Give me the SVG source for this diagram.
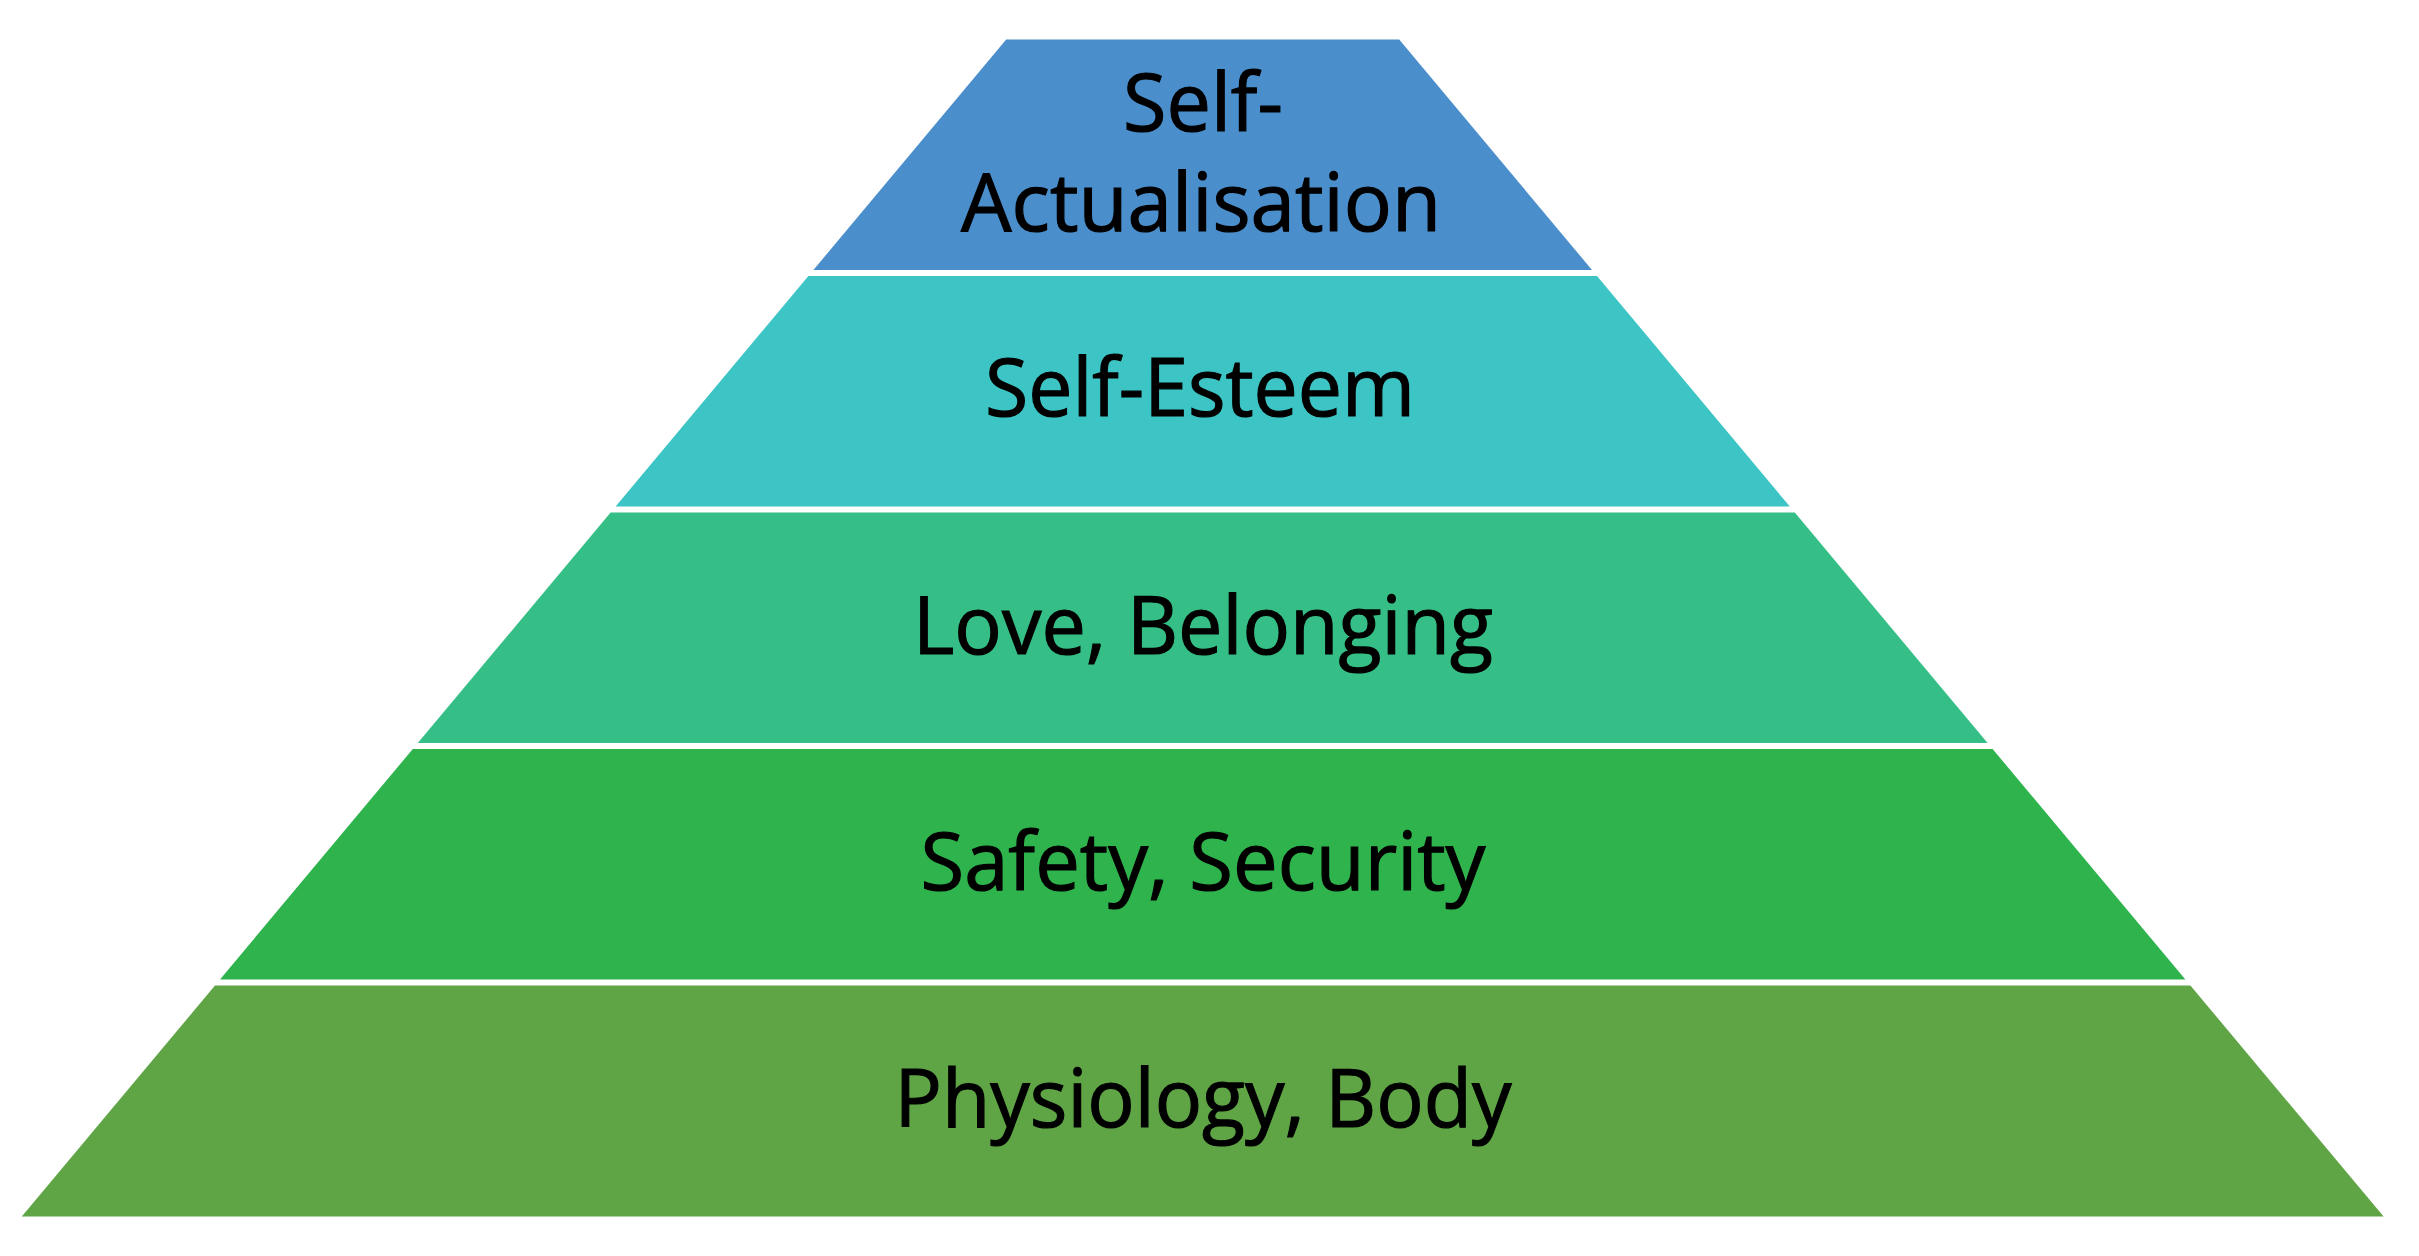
<svg xmlns="http://www.w3.org/2000/svg" width="2419" height="1256" viewBox="0 0 2419 1256">
<style>
.lbl{font-family:"Open Sans","Liberation Sans",sans-serif;font-size:81px;fill:#000;stroke:#000;stroke-width:1.2px;text-anchor:middle}
</style>
<rect width="2419" height="1256" fill="#fff"/>
<g id="layer-self-actualisation">
<polygon points="1006.2,39.5 1399.2,39.5 1592,270 813.4,270" fill="#4A8ECC"/>
<text class="lbl" x="1203" y="131" textLength="160" lengthAdjust="spacingAndGlyphs">Self-</text>
<text class="lbl" x="1201" y="231" textLength="480" lengthAdjust="spacingAndGlyphs">Actualisation</text>
</g>
<g id="layer-self-esteem">
<polygon points="808.4,276 1597,276 1789.8,506.5 615.6,506.5" fill="#3CC5C4"/>
<text class="lbl" x="1200" y="416" textLength="430" lengthAdjust="spacingAndGlyphs">Self-Esteem</text>
</g>
<g id="layer-love-belonging">
<polygon points="610.6,512.5 1794.8,512.5 1987.6,743 417.8,743" fill="#35BF87"/>
<text class="lbl" x="1203" y="654" textLength="580" lengthAdjust="spacingAndGlyphs">Love, Belonging</text>
</g>
<g id="layer-safety-security">
<polygon points="412.8,749 1992.6,749 2185.4,979.5 220,979.5" fill="#2EB34D"/>
<text class="lbl" x="1203" y="890" textLength="565" lengthAdjust="spacingAndGlyphs">Safety, Security</text>
</g>
<g id="layer-physiology-body">
<polygon points="215,985.5 2190.4,985.5 2383.6,1216.5 21.8,1216.5" fill="#5FA445"/>
<text class="lbl" x="1203" y="1127" textLength="617" lengthAdjust="spacingAndGlyphs">Physiology, Body</text>
</g>
<g id="connectors"/>
</svg>
